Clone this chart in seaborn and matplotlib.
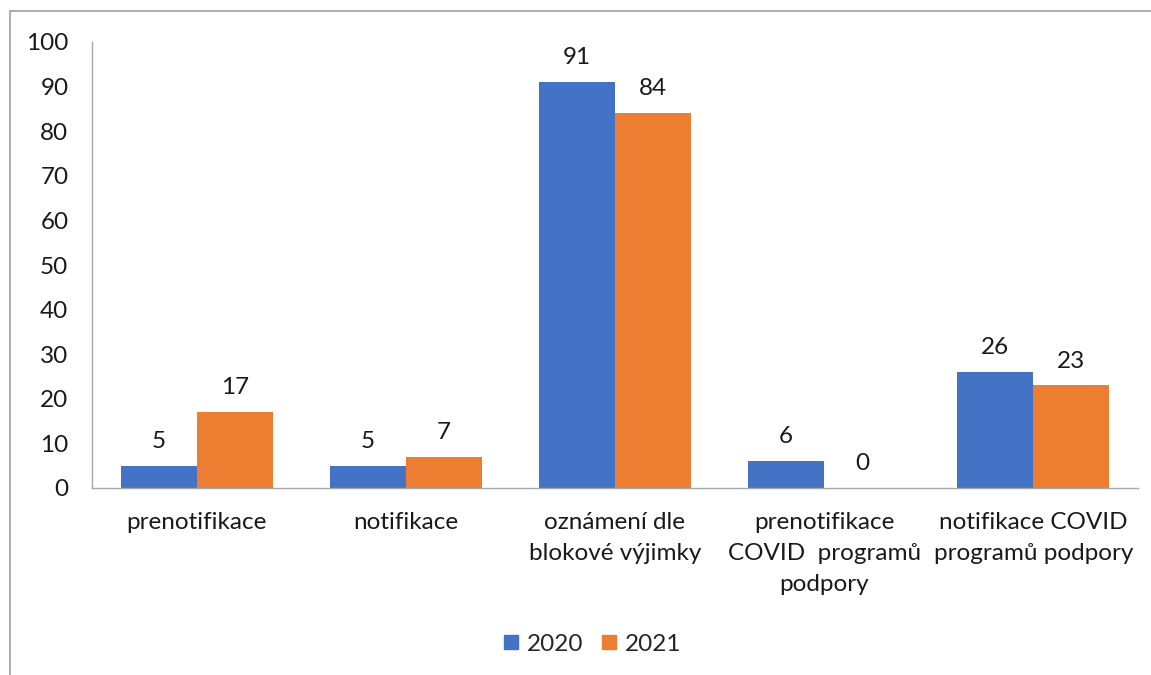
import pandas as pd
import seaborn as sns
import matplotlib.pyplot as plt
from matplotlib.lines import Line2D

# Data
categories = [
    "prenotifikace",
    "notifikace",
    "oznámení dle\nblokové výjimky",
    "prenotifikace\nCOVID  programů\npodpory",
    "notifikace COVID\nprogramů podpory",
]
years = ["2020", "2021"]
values_2020 = [5, 5, 91, 6, 26]
values_2021 = [17, 7, 84, 0, 23]
colors = ["#4472C4", "#ED7D31"]

df = pd.DataFrame({
    "kategorie": categories * 2,
    "rok": [years[0]] * len(categories) + [years[1]] * len(categories),
    "pocet": values_2020 + values_2021,
})

sns.set_theme(style="white")
plt.rcParams["font.family"] = ["Lato", "DejaVu Sans"]
FS = 17.5

fig = plt.figure(figsize=(11.51, 6.75), dpi=100)
ax = fig.add_axes([92 / 1151, 1 - 488 / 675, (1138 - 92) / 1151, (488 - 42) / 675])

sns.barplot(data=df, x="kategorie", y="pocet", hue="rok", order=categories,
            palette=colors, width=0.727, gap=0, saturation=1, linewidth=0,
            ax=ax, legend=False)

for cont in ax.containers:
    ax.bar_label(cont, fmt="%d", padding=10, fontsize=FS, color="#1a1a1a")

ax.set_ylim(0, 100)
ax.set_yticks(range(0, 101, 10))
ax.set_xlim(-0.5, len(categories) - 0.5)
ax.set_xlabel("")
ax.set_ylabel("")
ax.tick_params(axis="both", length=0, labelsize=FS, colors="#1a1a1a")
ax.tick_params(axis="y", pad=17)
ax.tick_params(axis="x", pad=17)
for lbl in ax.get_xticklabels():
    lbl.set_linespacing(1.6)
    lbl.set_verticalalignment("top")

for side in ["top", "right"]:
    ax.spines[side].set_visible(False)
for side in ["left", "bottom"]:
    ax.spines[side].set_color("#A6A6A6")
    ax.spines[side].set_linewidth(1)

# legend
handles = [Line2D([], [], marker="s", linestyle="", markersize=10.5,
                  markerfacecolor=c, markeredgecolor=c) for c in colors]
fig.legend(handles, years, loc="center", bbox_to_anchor=(592 / 1151, 1 - 644 / 675),
           ncol=2, frameon=False, fontsize=FS, handlelength=0.7,
           handletextpad=0.3, columnspacing=0.7)

# outer chart frame (top and left edges visible)
fig.add_artist(Line2D([10 / 1151, 1], [1 - 11 / 675, 1 - 11 / 675],
                      color="#A0A0A0", linewidth=1.2))
fig.add_artist(Line2D([10 / 1151, 10 / 1151], [0, 1 - 11 / 675],
                      color="#A0A0A0", linewidth=1.2))

fig.savefig("out.png", dpi=100)
